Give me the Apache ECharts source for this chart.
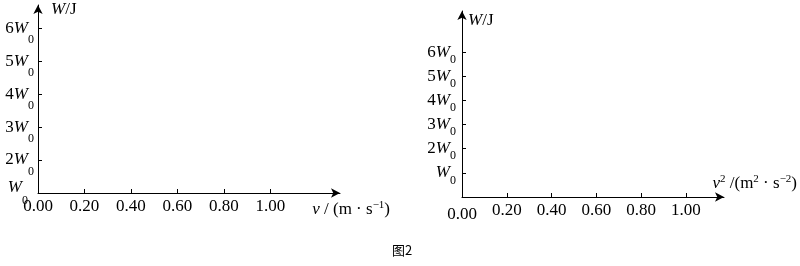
<!DOCTYPE html>
<html><head><meta charset="utf-8">
<script src="https://cdn.jsdelivr.net/npm/echarts@6/dist/echarts.min.js"></script>
<style>html,body{margin:0;padding:0;background:#fff}#c{width:800px;height:266px}</style>
</head><body><div id="c"></div>
<script>
// ---- data ----
const xTickValues = [0, 0.2, 0.4, 0.6, 0.8, 1.0];
const xTickLabels = ['0.00', '0.20', '0.40', '0.60', '0.80', '1.00'];
const yTickValues = [1, 2, 3, 4, 5, 6];
const yCoefLabels = ['', '2', '3', '4', '5', '6'];
const yUnitSymbol = 'W';
const ySubscript = '0';
const yAxisName = ['W', '/J'];
const leftXName = ['v', ' / (m · s', '−1', ')'];
const rightXName = ['v', '2', ' /(m', '2', ' · s', '−2', ')'];
const figureTitle = '图2';
const leftSeries = [];
const rightSeries = [];

const SERIF = 'Liberation Serif, Times New Roman, DejaVu Serif, serif';
const FS = 17;
const base = {fontFamily: SERIF, fontSize: FS, color: '#000'};

function yRich(subPad) {
  return {
    n: Object.assign({}, base, {verticalAlign: 'middle'}),
    w: Object.assign({}, base, {fontStyle: 'italic', verticalAlign: 'middle'}),
    s: Object.assign({}, base, {fontSize: 12, verticalAlign: 'middle', padding: [subPad, 0, 0, 0]}),
    w1: Object.assign({}, base, {fontStyle: 'italic', verticalAlign: 'top'}),
    s1: Object.assign({}, base, {fontSize: 12, verticalAlign: 'bottom', padding: [16, 6, 0, 0]})
  };
}
function yFormatter(shiftOrigin) {
  return function (v) {
    const i = yTickValues.indexOf(v);
    if (i < 0) return '';
    if (i === 0 && shiftOrigin) return '{w1|' + yUnitSymbol + '}{s1|' + ySubscript + '}';
    const c = yCoefLabels[i];
    return (c ? '{n|' + c + '}' : '') + '{w|' + yUnitSymbol + '}{s|' + ySubscript + '}';
  };
}
function xFormatter(lowerZero) {
  return function (v) {
    const i = xTickValues.findIndex(t => Math.abs(t - v) < 1e-9);
    if (i < 0) return '';
    if (i === 0 && lowerZero) return '{z|' + xTickLabels[i] + '}';
    return '{d|' + xTickLabels[i] + '}';
  };
}
const xRich = {
  d: Object.assign({}, base),
  z: Object.assign({}, base, {padding: [4, 0, 0, 0]})
};
const nameRich = {
  i: Object.assign({}, base, {fontStyle: 'italic', lineHeight: 20, verticalAlign: 'middle'}),
  t: Object.assign({}, base, {lineHeight: 20, verticalAlign: 'middle'}),
  p: Object.assign({}, base, {fontSize: 11, verticalAlign: 'top'})
};
const lineStyle = {color: '#000', width: 1};

function yNameText() { return '{i|' + yAxisName[0] + '}{t|' + yAxisName[1] + '}'; }

const option = {
  animation: false,
  backgroundColor: '#fff',
  title: {
    text: figureTitle, left: 387, top: 239,
    textStyle: {fontFamily: 'Noto Sans CJK SC', fontSize: 13, fontWeight: 'normal', color: '#000'}
  },
  grid: [
    {left: 38, top: 5, width: 302, height: 188},
    {left: 462, top: 11, width: 264, height: 186}
  ],
  xAxis: [
    {
      type: 'value', gridIndex: 0, min: 0, max: 1.3,
      axisLine: {lineStyle, symbol: ['none', 'arrow'], symbolSize: [7, 9]},
      axisTick: {show: true, inside: true, length: 4, lineStyle, customValues: xTickValues.slice(1)},
      axisLabel: {margin: 5, formatter: xFormatter(false), rich: xRich, customValues: xTickValues},
      splitLine: {show: false},
      name: '{i|' + leftXName[0] + '}{t|' + leftXName[1] + '}{p|' + leftXName[2] + '}{t|' + leftXName[3] + '}',
      nameLocation: 'end', nameGap: 50,
      nameTextStyle: {align: 'right', verticalAlign: 'middle', padding: [34, 0, 0, 0], rich: nameRich}
    },
    {
      type: 'value', gridIndex: 1, min: 0, max: 1.17,
      axisLine: {lineStyle, symbol: ['none', 'arrow'], symbolSize: [7, 9]},
      axisTick: {show: true, inside: true, length: 4, lineStyle, customValues: xTickValues.slice(1)},
      axisLabel: {margin: 5, formatter: xFormatter(true), rich: xRich, customValues: xTickValues},
      splitLine: {show: false},
      name: '{i|' + rightXName[0] + '}{p|' + rightXName[1] + '}{t|' + rightXName[2] + '}{p|' + rightXName[3] + '}{t|' + rightXName[4] + '}{p|' + rightXName[5] + '}{t|' + rightXName[6] + '}',
      nameLocation: 'end', nameGap: 73,
      nameTextStyle: {align: 'right', verticalAlign: 'middle', padding: [0, 0, 26, 0], rich: nameRich}
    }
  ],
  yAxis: [
    {
      type: 'value', gridIndex: 0, min: 1, max: 6.7,
      axisLine: {show: true, lineStyle, symbol: ['none', 'arrow'], symbolSize: [7, 9]},
      axisTick: {show: true, inside: true, length: 4, lineStyle, customValues: yTickValues.slice(1)},
      axisLabel: {margin: 4, formatter: yFormatter(true), rich: yRich(24), customValues: yTickValues},
      splitLine: {show: false},
      name: yNameText(), nameLocation: 'end', nameGap: -5,
      nameTextStyle: {align: 'left', verticalAlign: 'middle', padding: [0, 0, 0, 13], rich: nameRich}
    },
    {
      type: 'value', gridIndex: 1, min: 0, max: 7.7,
      axisLine: {show: true, lineStyle, symbol: ['none', 'arrow'], symbolSize: [7, 9]},
      axisTick: {show: true, inside: true, length: 4, lineStyle, customValues: yTickValues},
      axisLabel: {margin: 6, formatter: yFormatter(false), rich: yRich(15), customValues: yTickValues},
      splitLine: {show: false},
      name: yNameText(), nameLocation: 'end', nameGap: -10,
      nameTextStyle: {align: 'left', verticalAlign: 'middle', padding: [0, 0, 0, 6], rich: nameRich}
    }
  ],
  series: [
    {type: 'line', xAxisIndex: 0, yAxisIndex: 0, data: leftSeries},
    {type: 'line', xAxisIndex: 1, yAxisIndex: 1, data: rightSeries}
  ]
};
echarts.init(document.getElementById('c'), null, {renderer: 'canvas'}).setOption(option);
</script>
</body></html>
